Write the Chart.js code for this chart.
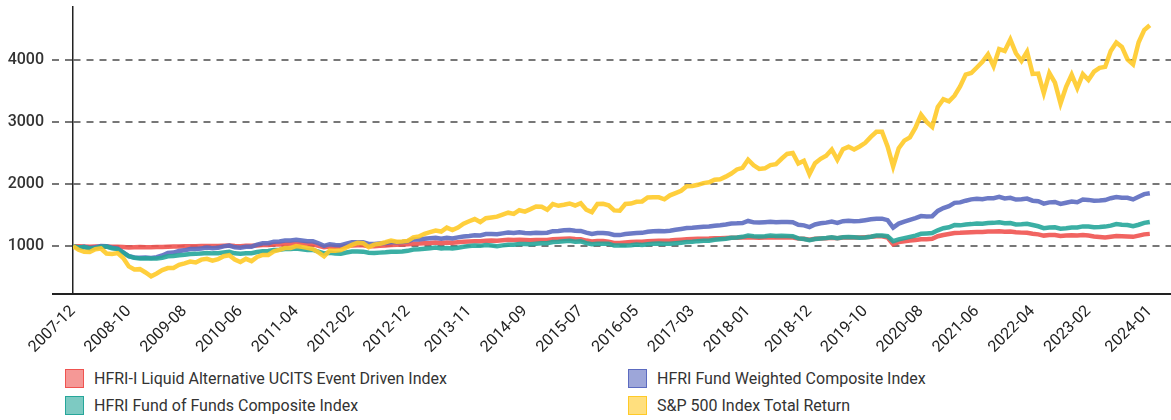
<!DOCTYPE html>
<html>
<head>
<meta charset="utf-8">
<script src="https://cdn.jsdelivr.net/npm/chart.js@4.4.1/dist/chart.umd.min.js"></script>
<style>
  body { margin: 0; background: #fff; font-family: Roboto, sans-serif; }
  #wrap { position: relative; width: 1171px; height: 420px; }
  #legend { position: absolute; left: 65px; top: 368px; display: grid; grid-template-columns: 563px 420px; row-gap: 7px; }
  .item { display: flex; align-items: center; height: 20px; font-size: 16px; color: #333; }
  .box { width: 17px; height: 17px; border: 1.5px solid; margin-right: 10px; }
</style>
</head>
<body>
<div id="wrap">
  <canvas id="chart" width="1171" height="365"></canvas>
  <div id="legend"></div>
</div>
<script>
// x-axis labels shown under the chart
const tickLabels = ['2007-12', '2008-10', '2009-08', '2010-06', '2011-04', '2012-02', '2012-12', '2013-11',
  '2014-09', '2015-07', '2016-05', '2017-03', '2018-01', '2018-12', '2019-10', '2020-08', '2021-06',
  '2022-04', '2023-02', '2024-01'];
const yTicks = [1000, 2000, 3000, 4000];

const seriesNames = [
  'HFRI-I Liquid Alternative UCITS Event Driven Index',
  'HFRI Fund Weighted Composite Index',
  'HFRI Fund of Funds Composite Index',
  'S&P 500 Index Total Return'
];

// monthly values, 2007-12 .. 2024-01 (one row per year)
const eventDriven = [1000,
  998, 994, 990, 993, 996, 993, 990, 990, 985, 980, 982, 985,
  984, 983, 985, 988, 992, 994, 996, 998, 1000, 1000, 1002, 1004,
  1002, 1004, 1008, 1010, 1002, 1000, 1005, 1006, 1012, 1018, 1018, 1025,
  1028, 1032, 1034, 1038, 1035, 1030, 1028, 1005, 985, 995, 992, 992,
  1002, 1012, 1015, 1014, 1000, 998, 1005, 1012, 1020, 1022, 1025, 1032,
  1040, 1042, 1048, 1052, 1058, 1050, 1058, 1055, 1062, 1070, 1075, 1080,
  1078, 1088, 1090, 1088, 1095, 1102, 1098, 1105, 1100, 1096, 1100, 1098,
  1098, 1110, 1115, 1120, 1125, 1115, 1112, 1090, 1075, 1085, 1082, 1070,
  1052, 1050, 1060, 1068, 1072, 1070, 1080, 1085, 1088, 1086, 1090, 1098,
  1105, 1112, 1115, 1118, 1120, 1122, 1128, 1128, 1132, 1136, 1136, 1138,
  1145, 1138, 1135, 1138, 1140, 1138, 1140, 1140, 1138, 1125, 1120, 1105,
  1118, 1125, 1128, 1135, 1128, 1138, 1142, 1138, 1140, 1145, 1150, 1158,
  1158, 1140, 1030, 1065, 1080, 1090, 1100, 1110, 1112, 1118, 1160, 1180,
  1195, 1212, 1215, 1220, 1225, 1230, 1228, 1235, 1235, 1240, 1232, 1235,
  1225, 1218, 1215, 1200, 1190, 1170, 1178, 1180, 1165, 1170, 1175, 1172,
  1178, 1170, 1155, 1148, 1140, 1150, 1162, 1158, 1155, 1150, 1170, 1190,
  1198];

const fundWeighted = [1000,
  973, 988, 967, 984, 1003, 997, 974, 960, 902, 840, 818, 814,
  818, 810, 822, 850, 892, 897, 922, 933, 955, 953, 964, 977,
  968, 973, 997, 1009, 982, 974, 990, 991, 1024, 1046, 1047, 1073,
  1077, 1090, 1091, 1103, 1091, 1078, 1079, 1047, 1006, 1032, 1020, 1016,
  1040, 1063, 1064, 1063, 1036, 1035, 1044, 1052, 1063, 1062, 1067, 1080,
  1108, 1109, 1121, 1128, 1135, 1119, 1135, 1125, 1142, 1156, 1165, 1177,
  1171, 1195, 1194, 1191, 1206, 1218, 1212, 1225, 1213, 1209, 1217, 1213,
  1217, 1242, 1245, 1256, 1261, 1250, 1245, 1218, 1197, 1212, 1210, 1203,
  1180, 1178, 1195, 1205, 1211, 1214, 1232, 1239, 1245, 1241, 1249, 1264,
  1277, 1291, 1295, 1304, 1311, 1316, 1330, 1338, 1349, 1364, 1367, 1373,
  1406, 1383, 1380, 1386, 1391, 1386, 1390, 1390, 1386, 1345, 1335, 1307,
  1350, 1368, 1379, 1395, 1374, 1403, 1409, 1403, 1404, 1418, 1432, 1443,
  1443, 1418, 1300, 1364, 1396, 1424, 1452, 1485, 1478, 1482, 1567, 1613,
  1644, 1697, 1705, 1732, 1753, 1764, 1755, 1773, 1773, 1794, 1769, 1778,
  1750, 1755, 1766, 1732, 1723, 1685, 1705, 1712, 1680, 1700, 1720, 1708,
  1750, 1745, 1730, 1735, 1742, 1772, 1792, 1780, 1778, 1752, 1795, 1838,
  1852];

const fundOfFunds = [1000,
  978, 985, 962, 972, 990, 993, 966, 952, 895, 837, 812, 800,
  806, 800, 803, 814, 838, 842, 855, 862, 875, 876, 883, 890,
  884, 886, 900, 909, 885, 877, 885, 886, 906, 920, 921, 940,
  944, 953, 953, 962, 951, 938, 940, 912, 883, 893, 882, 880,
  898, 913, 914, 912, 894, 891, 896, 902, 911, 910, 915, 925,
  945, 949, 958, 966, 977, 962, 972, 964, 976, 990, 1001, 1010,
  1005, 1019, 1011, 1000, 1013, 1023, 1022, 1034, 1034, 1030, 1040, 1045,
  1047, 1066, 1072, 1080, 1086, 1073, 1077, 1048, 1030, 1038, 1040, 1040,
  1010, 1010, 1010, 1016, 1026, 1020, 1031, 1038, 1043, 1037, 1038, 1046,
  1056, 1066, 1072, 1081, 1087, 1088, 1104, 1112, 1121, 1135, 1141, 1150,
  1170, 1160, 1157, 1160, 1170, 1164, 1166, 1164, 1161, 1125, 1115, 1095,
  1115, 1125, 1130, 1143, 1129, 1142, 1148, 1145, 1136, 1140, 1152, 1170,
  1170, 1160, 1080, 1110, 1130, 1150, 1170, 1200, 1205, 1210, 1255, 1290,
  1303, 1340, 1335, 1348, 1355, 1365, 1360, 1372, 1375, 1385, 1370, 1372,
  1350, 1352, 1360, 1340, 1320, 1290, 1300, 1305, 1282, 1288, 1300, 1300,
  1318, 1315, 1305, 1308, 1315, 1330, 1355, 1345, 1340, 1320, 1345, 1375,
  1390];

const sp500 = [1000,
  941, 910, 906, 952, 963, 882, 875, 888, 809, 674, 624, 630,
  577, 515, 560, 614, 648, 649, 699, 724, 752, 738, 783, 796,
  768, 791, 839, 854, 784, 744, 796, 759, 827, 859, 859, 917,
  939, 970, 971, 1001, 989, 973, 953, 901, 837, 929, 926, 936,
  978, 1020, 1053, 1048, 984, 1025, 1040, 1063, 1090, 1070, 1075, 1085,
  1142, 1157, 1200, 1225, 1252, 1235, 1299, 1260, 1300, 1361, 1401, 1436,
  1388, 1450, 1463, 1475, 1509, 1539, 1519, 1579, 1557, 1596, 1638, 1634,
  1586, 1677, 1650, 1667, 1687, 1655, 1691, 1587, 1548, 1679, 1683, 1657,
  1576, 1572, 1679, 1686, 1715, 1720, 1785, 1786, 1786, 1755, 1818, 1855,
  1891, 1965, 1968, 1988, 2015, 2028, 2071, 2076, 2119, 2170, 2235, 2261,
  2391, 2302, 2243, 2253, 2305, 2320, 2407, 2485, 2499, 2330, 2375, 2160,
  2334, 2407, 2455, 2556, 2392, 2561, 2599, 2556, 2605, 2663, 2758, 2841,
  2841, 2606, 2284, 2577, 2698, 2752, 2908, 3116, 2999, 2920, 3240, 3365,
  3331, 3422, 3571, 3762, 3787, 3876, 3968, 4089, 3899, 4172, 4142, 4328,
  4106, 3983, 4130, 3773, 3778, 3465, 3786, 3631, 3297, 3564, 3761, 3544,
  3769, 3675, 3809, 3870, 3886, 4142, 4278, 4208, 4008, 3926, 4282, 4478,
  4556];

// month categories, starting at 2007-12
const months = [];
for (let y = 2007, m = 12; months.length < sp500.length; m++) {
  if (m > 12) { m = 1; y++; }
  months.push(y + '-' + String(m).padStart(2, '0'));
}

const colors = ['239, 83, 80', '92, 107, 192', '38, 166, 154', '255, 202, 40'];
const allSeries = [eventDriven, fundWeighted, fundOfFunds, sp500];
const drawOrder = [3, 2, 1, 0]; // S&P on top

Chart.defaults.font.family = 'Roboto, sans-serif';

const datasets = allSeries.map((vals, i) => ({
  label: seriesNames[i],
  data: vals.map((v, k) => ({ x: k, y: v })),
  borderColor: `rgba(${colors[i]}, 0.9)`,
  backgroundColor: `rgba(${colors[i]}, 0.6)`,
  borderWidth: 4.5,
  pointRadius: 0,
  tension: 0,
  order: drawOrder[i]
}));

const bottomAxis = {
  id: 'bottomAxis',
  beforeDatasetsDraw(chart) {
    const { ctx, chartArea, scales } = chart;
    ctx.save();
    ctx.strokeStyle = '#222';
    ctx.lineWidth = 2;
    ctx.beginPath();
    ctx.moveTo(chartArea.left - scales.y.options.grid.tickLength, chartArea.bottom);
    ctx.lineTo(chartArea.right, chartArea.bottom);
    ctx.stroke();
    ctx.restore();
  }
};

new Chart(document.getElementById('chart'), {
  type: 'line',
  data: { datasets: datasets },
  options: {
    responsive: false,
    animation: false,
    layout: { padding: { top: 7, right: 0, left: 0, bottom: 0 } },
    plugins: { legend: { display: false }, tooltip: { enabled: false } },
    scales: {
      x: {
        type: 'linear',
        min: 0,
        max: 196.8,
        grid: { display: false, drawTicks: false },
        border: { display: false },
        ticks: {
          autoSkip: false, minRotation: 45, maxRotation: 45, padding: 8,
          color: '#222', font: { size: 16 },
          callback: v => months[v]
        },
        afterBuildTicks: s => { s.ticks = tickLabels.map(l => ({ value: months.indexOf(l) })); },
        afterFit: s => { s.height = 71; s.paddingRight = 0; s.paddingLeft = 0; }
      },
      y: {
        min: 230,
        max: 4850,
        ticks: { padding: 8, color: '#333', font: { size: 16, weight: '500' }, callback: v => String(v) },
        afterBuildTicks: s => { s.ticks = yTicks.map(v => ({ value: v })); },
        grid: { color: '#777', lineWidth: 2, tickLength: 21, tickBorderDash: [7, 6] },
        border: { display: true, color: '#222', width: 1.5, dash: [7, 6] },
        afterFit: s => { s.width = 73; s.paddingTop = 0; s.paddingBottom = 0; }
      }
    }
  },
  plugins: [bottomAxis]
});

// legend in two columns
const legend = document.getElementById('legend');
[0, 1, 2, 3].forEach(i => {
  const item = document.createElement('div');
  item.className = 'item';
  item.innerHTML = `<span class="box" style="background:rgba(${colors[i]},0.6);border-color:rgb(${colors[i]})"></span>${seriesNames[i]}`;
  legend.appendChild(item);
});
</script>
</body>
</html>
